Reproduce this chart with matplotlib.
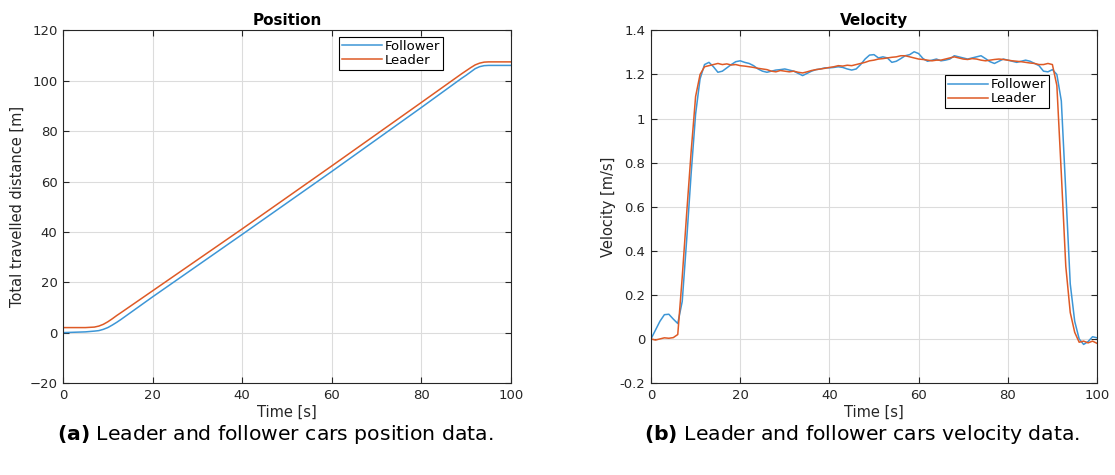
import matplotlib
matplotlib.use('Agg')
import matplotlib.pyplot as plt
import numpy as np

# Position data [m]
pos_t = [0, 5, 7, 8, 9, 10, 11, 12, 13, 20, 40, 60, 80, 89, 90, 91, 92, 93, 94, 95, 100]
pos_leader = [2.0, 2.0, 2.2, 2.6, 3.3, 4.3, 5.5, 6.8, 8.0, 16.6, 41.2, 66.2, 91.4, 102.8, 104.0,
              105.2, 106.3, 107.0, 107.4, 107.5, 107.5]
pos_follower = [0.0, 0.3, 0.6, 0.8, 1.3, 2.0, 3.0, 4.1, 5.3, 14.2, 39.0, 64.0, 89.4, 101.0, 102.2,
                103.5, 104.8, 105.6, 106.0, 106.1, 106.1]

# Velocity data [m/s], one sample per second
vel_t = list(range(0, 101))
vel_follower = [
    0.0, 0.04, 0.08, 0.11, 0.112, 0.09, 0.07, 0.17, 0.45, 0.75,
    1.02, 1.18, 1.245, 1.255, 1.235, 1.21, 1.215, 1.23, 1.245, 1.258,
    1.262, 1.255, 1.25, 1.24, 1.225, 1.215, 1.21, 1.215, 1.22, 1.222,
    1.225, 1.22, 1.215, 1.205, 1.195, 1.205, 1.215, 1.222, 1.225, 1.23,
    1.23, 1.232, 1.235, 1.232, 1.225, 1.22, 1.225, 1.245, 1.27, 1.288,
    1.29, 1.275, 1.28, 1.275, 1.255, 1.26, 1.272, 1.285, 1.29, 1.303,
    1.295, 1.272, 1.26, 1.265, 1.27, 1.262, 1.265, 1.27, 1.285, 1.28,
    1.275, 1.27, 1.275, 1.28, 1.285, 1.272, 1.258, 1.25, 1.26, 1.27,
    1.265, 1.26, 1.255, 1.26, 1.265, 1.26, 1.25, 1.24, 1.215, 1.212,
    1.222, 1.2, 1.08, 0.67, 0.25, 0.08, 0.0, -0.025, -0.012, 0.01,
    0.005]
vel_leader = [
    0.0, -0.005, 0.0, 0.005, 0.003, 0.006, 0.02, 0.28, 0.57, 0.85,
    1.1, 1.2, 1.235, 1.24, 1.245, 1.25, 1.245, 1.248, 1.243, 1.245,
    1.24, 1.238, 1.235, 1.232, 1.228, 1.225, 1.222, 1.215, 1.212, 1.218,
    1.215, 1.212, 1.215, 1.21, 1.207, 1.212, 1.218, 1.222, 1.225, 1.228,
    1.232, 1.235, 1.24, 1.238, 1.242, 1.24, 1.245, 1.25, 1.255, 1.262,
    1.265, 1.27, 1.272, 1.275, 1.278, 1.28, 1.285, 1.285, 1.28, 1.275,
    1.27, 1.268, 1.265, 1.262, 1.265, 1.265, 1.27, 1.275, 1.28, 1.275,
    1.27, 1.268, 1.272, 1.27, 1.265, 1.262, 1.265, 1.268, 1.27, 1.268,
    1.265, 1.262, 1.26, 1.258, 1.255, 1.252, 1.25, 1.245, 1.245, 1.25,
    1.245, 1.15, 0.75, 0.33, 0.12, 0.03, -0.015, -0.01, -0.018, -0.01,
    -0.02]

BLUE = '#3d96d6'
ORANGE = '#de5a26'
TXT = '#262626'

plt.rcParams['font.family'] = ['DejaVu Sans']

fig = plt.figure(figsize=(11.15, 4.75), dpi=100)


def style_axes(ax, xlim, ylim, yticks):
    ax.set_xlim(*xlim)
    ax.set_ylim(*ylim)
    ax.set_xticks(np.arange(0, 101, 20))
    ax.set_yticks(yticks)
    ax.grid(True, color='#dcdcdc', lw=0.8)
    ax.set_axisbelow(True)
    ax.tick_params(direction='in', top=True, right=True, length=4, width=0.8,
                   labelsize=9.5, colors=TXT, labelcolor=TXT, pad=4)
    for s in ax.spines.values():
        s.set_color(TXT)
        s.set_linewidth(0.8)
    ax.set_xlabel('Time [s]', fontsize=10.5, color=TXT, labelpad=2)


# Position
ax1 = fig.add_axes([63 / 1115, 92 / 475, 448 / 1115, 352.6 / 475])
ax1.plot(pos_t, pos_follower, color=BLUE, lw=1.1, label='Follower')
ax1.plot(pos_t, pos_leader, color=ORANGE, lw=1.1, label='Leader')
style_axes(ax1, (0, 100), (-20, 120), np.arange(-20, 121, 20))
ax1.set_ylabel('Total travelled distance [m]', fontsize=10.5, color=TXT, labelpad=3)
ax1.set_title('Position', fontsize=11, fontweight='bold', pad=4)
leg1 = ax1.legend(loc='upper left', bbox_to_anchor=(0.616, 0.982), borderaxespad=0,
                  fontsize=9.5, handlelength=3.0, handletextpad=0.2, labelspacing=0.05,
                  borderpad=0.25, fancybox=False, edgecolor='black', framealpha=1)
leg1.get_frame().set_linewidth(0.8)

# Velocity
ax2 = fig.add_axes([651 / 1115, 92 / 475, 446 / 1115, 352.6 / 475])
ax2.plot(vel_t, vel_follower, color=BLUE, lw=1.1, label='Follower')
ax2.plot(vel_t, vel_leader, color=ORANGE, lw=1.1, label='Leader')
style_axes(ax2, (0, 100), (-0.2, 1.4), np.round(np.arange(-0.2, 1.41, 0.2), 1))
ax2.set_yticklabels(['-0.2', '0', '0.2', '0.4', '0.6', '0.8', '1', '1.2', '1.4'])
ax2.set_ylabel('Velocity [m/s]', fontsize=10.5, color=TXT, labelpad=3)
ax2.set_title('Velocity', fontsize=11, fontweight='bold', pad=4)
leg2 = ax2.legend(loc='upper left', bbox_to_anchor=(0.659, 0.873), borderaxespad=0,
                  fontsize=9.5, handlelength=3.0, handletextpad=0.2, labelspacing=0.05,
                  borderpad=0.25, fancybox=False, edgecolor='black', framealpha=1)
leg2.get_frame().set_linewidth(0.8)

# Captions
fig.text(57 / 1115, 1 - 434 / 475, r'$\bf{(a)}$ Leader and follower cars position data.',
         fontsize=14.7, va='center', ha='left')
fig.text(644 / 1115, 1 - 434 / 475, r'$\bf{(b)}$ Leader and follower cars velocity data.',
         fontsize=14.7, va='center', ha='left')

fig.savefig('out.png', dpi=100)
